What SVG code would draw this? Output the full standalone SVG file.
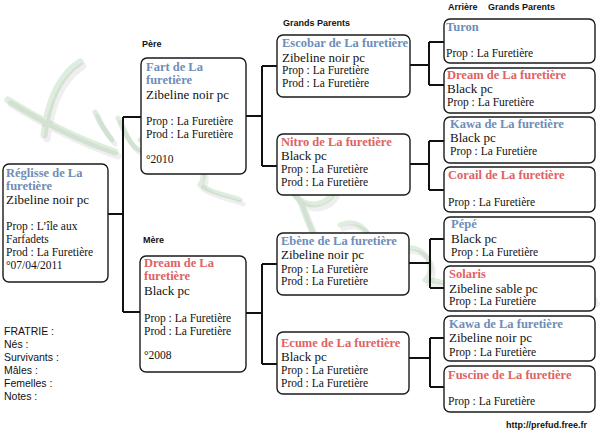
<svg xmlns="http://www.w3.org/2000/svg" width="600" height="433" viewBox="0 0 600 433">
<style>
.box{fill:#fff;stroke:#1a1a1a;stroke-width:1.4}
.t{font-family:"Liberation Serif","DejaVu Serif",serif;font-weight:bold;font-size:12.5px}
.b{fill:#6e8db8}
.r{fill:#e06262}
.m{font-family:"Liberation Serif","DejaVu Serif",serif;font-size:13px;fill:#111}
.s{font-family:"Liberation Serif","DejaVu Serif",serif;font-size:11.5px;fill:#111}
.h{font-family:"Liberation Sans",Arial,sans-serif;font-weight:bold;font-size:9px;fill:#111}
.f{font-family:"Liberation Sans",Arial,sans-serif;font-size:10.5px;fill:#111}
.c{fill:none;stroke:#111;stroke-width:2}
.wm{fill:none;stroke:#8cc088;stroke-linecap:round;stroke-linejoin:round;opacity:0.28}
.ws{fill:none;stroke:#a8a8a8;stroke-linecap:round;stroke-linejoin:round;opacity:0.18}
</style>
<rect width="600" height="433" fill="#fff"/>
<g id="watermark">
<g class="ws" transform="translate(3,4)">
<path d="M80 62 C60 75 48 100 44 135 M8 100 C40 120 80 140 115 152" stroke-width="7"/>
<path d="M95 112 C100 125 108 135 112 140 M118 118 C125 135 132 148 140 150 M140 140 C150 135 158 150 150 160 C160 165 170 170 175 165" stroke-width="5"/>
<path d="M180 160 C195 150 210 170 200 185 C215 195 230 195 240 200" stroke-width="5"/>
<path d="M330 165 C300 155 280 175 295 195 C310 215 340 200 335 180 M300 200 C310 230 320 250 330 260" stroke-width="6"/>
<path d="M340 225 C360 215 380 240 365 255 C385 250 400 265 395 280 M400 250 C420 240 440 265 425 280 C445 280 460 290 470 295" stroke-width="5"/>
<path d="M470 275 C495 265 520 290 505 305 C530 300 560 310 595 300" stroke-width="5"/>
</g>
<g class="wm">
<path d="M80 62 C60 75 48 100 44 135 M8 100 C40 120 80 140 115 152" stroke-width="7"/>
<path d="M95 112 C100 125 108 135 112 140 M118 118 C125 135 132 148 140 150 M140 140 C150 135 158 150 150 160 C160 165 170 170 175 165" stroke-width="5"/>
<path d="M180 160 C195 150 210 170 200 185 C215 195 230 195 240 200" stroke-width="5"/>
<path d="M330 165 C300 155 280 175 295 195 C310 215 340 200 335 180 M300 200 C310 230 320 250 330 260" stroke-width="6"/>
<path d="M340 225 C360 215 380 240 365 255 C385 250 400 265 395 280 M400 250 C420 240 440 265 425 280 C445 280 460 290 470 295" stroke-width="5"/>
<path d="M470 275 C495 265 520 290 505 305 C530 300 560 310 595 300" stroke-width="5"/>
</g>
</g>
<g id="connectors">
<path class="c" d="M108 214H123M123 117V312M123 117H141M123 312H140"/>
<path class="c" d="M246 116H262M262 66V166M262 66H277M262 166H277"/>
<path class="c" d="M246 313H262M262 264V364M262 264H277M262 364H277"/>
<path class="c" d="M410 65H429M429 42V85M429 42H444M429 85H444"/>
<path class="c" d="M410 164H429M429 141V190M429 141H444M429 190H444"/>
<path class="c" d="M409 263H430M430 239V288M430 239H444M430 288H444"/>
<path class="c" d="M409 358H430M430 338V387M430 338H444M430 387H444"/>
</g>
<g id="labels">
<text class="h" x="142" y="47">Père</text>
<text class="h" x="143" y="243">Mère</text>
<text class="h" x="283" y="26">Grands Parents</text>
<text class="h" x="448" y="10">Arrière</text>
<text class="h" x="488" y="10">Grands Parents</text>
</g>
<g id="reglisse">
<rect class="box" x="3" y="164" width="105" height="118" rx="6"/>
<text class="t b" x="6" y="177">Réglisse de La</text>
<text class="t b" x="6" y="190">furetière</text>
<text class="m" x="6" y="204">Zibeline noir pc</text>
<text class="s" x="6" y="230">Prop : L’île aux</text>
<text class="s" x="6" y="243">Farfadets</text>
<text class="s" x="6" y="256">Prod : La Furetière</text>
<text class="s" x="6" y="269">°07/04/2011</text>
</g>
<g id="fart">
<rect class="box" x="141" y="58" width="105" height="116" rx="6"/>
<text class="t b" x="146" y="71">Fart de La</text>
<text class="t b" x="146" y="84">furetière</text>
<text class="m" x="146" y="99">Zibeline noir pc</text>
<text class="s" x="146" y="125">Prop : La Furetière</text>
<text class="s" x="146" y="138">Prod : La Furetière</text>
<text class="s" x="146" y="163">°2010</text>
</g>
<g id="dream-mere">
<rect class="box" x="140" y="256" width="106" height="116" rx="6"/>
<text class="t r" x="144" y="267">Dream de La</text>
<text class="t r" x="144" y="280">furetière</text>
<text class="m" x="144" y="295">Black pc</text>
<text class="s" x="144" y="322">Prop : La Furetière</text>
<text class="s" x="144" y="335">Prod : La Furetière</text>
<text class="s" x="144" y="359">°2008</text>
</g>
<g id="escobar">
<rect class="box" x="277" y="35" width="133" height="62" rx="6"/>
<text class="t b" x="282" y="47">Escobar de La furetière</text>
<text class="m" x="282" y="62">Zibeline noir pc</text>
<text class="s" x="282" y="74">Prop : La Furetière</text>
<text class="s" x="282" y="87">Prod : La Furetière</text>
</g>
<g id="nitro">
<rect class="box" x="277" y="134" width="133" height="61" rx="6"/>
<text class="t r" x="281" y="146">Nitro de La furetière</text>
<text class="m" x="281" y="160">Black pc</text>
<text class="s" x="281" y="173">Prop : La Furetière</text>
<text class="s" x="281" y="186">Prod : La Furetière</text>
</g>
<g id="ebene">
<rect class="box" x="277" y="233" width="132" height="62" rx="6"/>
<text class="t b" x="281" y="245">Ebène de La furetière</text>
<text class="m" x="281" y="259">Zibeline noir pc</text>
<text class="s" x="281" y="273">Prop : La Furetière</text>
<text class="s" x="281" y="285">Prod : La Furetière</text>
</g>
<g id="ecume">
<rect class="box" x="277" y="332" width="132" height="62" rx="6"/>
<text class="t r" x="281" y="347">Ecume de La furetière</text>
<text class="m" x="281" y="361">Black pc</text>
<text class="s" x="281" y="374">Prop : La Furetière</text>
<text class="s" x="281" y="387">Prod : La Furetière</text>
</g>
<g id="turon">
<rect class="box" x="444" y="19" width="151" height="44" rx="6"/>
<text class="t b" x="446" y="31">Turon</text>
<text class="s" x="446" y="57">Prop : La Furetière</text>
</g>
<g id="dream-gp">
<rect class="box" x="444" y="68" width="151" height="45" rx="6"/>
<text class="t r" x="447" y="79">Dream de La furetière</text>
<text class="m" x="447" y="93">Black pc</text>
<text class="s" x="447" y="106">Prop : La Furetière</text>
</g>
<g id="kawa1">
<rect class="box" x="444" y="117" width="151" height="46" rx="6"/>
<text class="t b" x="450" y="128">Kawa de La furetière</text>
<text class="m" x="450" y="142">Black pc</text>
<text class="s" x="450" y="155">Prop : La Furetière</text>
</g>
<g id="corail">
<rect class="box" x="444" y="167" width="151" height="45" rx="6"/>
<text class="t r" x="448" y="179">Corail de La furetière</text>
<text class="s" x="448" y="206">Prop : La Furetière</text>
</g>
<g id="pepe">
<rect class="box" x="444" y="217" width="151" height="45" rx="6"/>
<text class="t b" x="451" y="228">Pépé</text>
<text class="m" x="451" y="243">Black pc</text>
<text class="s" x="451" y="256">Prop : La Furetière</text>
</g>
<g id="solaris">
<rect class="box" x="444" y="266" width="151" height="45" rx="6"/>
<text class="t r" x="449" y="278">Solaris</text>
<text class="m" x="449" y="293">Zibeline sable pc</text>
<text class="s" x="449" y="305">Prop : La Furetière</text>
</g>
<g id="kawa2">
<rect class="box" x="444" y="316" width="151" height="45" rx="6"/>
<text class="t b" x="449" y="328">Kawa de La furetière</text>
<text class="m" x="449" y="342">Zibeline noir pc</text>
<text class="s" x="449" y="356">Prop : La Furetière</text>
</g>
<g id="fuscine">
<rect class="box" x="444" y="366" width="151" height="46" rx="6"/>
<text class="t r" x="448" y="379">Fuscine de La furetière</text>
<text class="s" x="448" y="405">Prop : La Furetière</text>
</g>
<g id="fratrie">
<text class="f" x="4" y="335">FRATRIE :</text>
<text class="f" x="4" y="348">Nés :</text>
<text class="f" x="4" y="361">Survivants :</text>
<text class="f" x="4" y="374">Mâles :</text>
<text class="f" x="4" y="387">Femelles :</text>
<text class="f" x="4" y="400">Notes :</text>
</g>
<text class="h" x="506" y="428">http://prefud.free.fr</text>
</svg>
